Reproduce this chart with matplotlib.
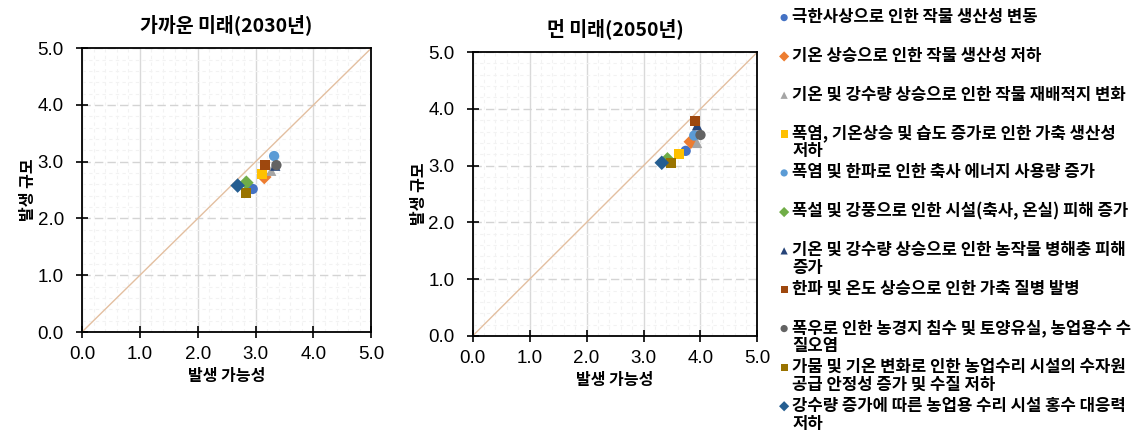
"""
Climate risk matrix: near future (2030) vs far future (2050)
"""
import numpy as np
import matplotlib
matplotlib.use('Agg')
import matplotlib.pyplot as plt
from matplotlib.ticker import MultipleLocator

plt.rcParams['font.family'] = ['Noto Sans CJK KR', 'DejaVu Sans']

# Risk labels (first line, wrapped continuation)
labels = [
    '극한사상으로 인한 작물 생산성 변동',
    '기온 상승으로 인한 작물 생산성 저하',
    '기온 및 강수량 상승으로 인한 작물 재배적지 변화',
    '폭염, 기온상승 및 습도 증가로 인한 가축 생산성',
    '폭염 및 한파로 인한 축사 에너지 사용량 증가',
    '폭설 및 강풍으로 인한 시설(축사, 온실) 피해 증가',
    '기온 및 강수량 상승으로 인한 농작물 병해충 피해',
    '한파 및 온도 상승으로 인한 가축 질병 발병',
    '폭우로 인한 농경지 침수 및 토양유실, 농업용수 수',
    '가뭄 및 기온 변화로 인한 농업수리 시설의 수자원',
    '강수량 증가에 따른 농업용 수리 시설 홍수 대응력',
]
wrap_lines = ['', '', '', '저하', '', '', '증가', '', '질오염', '공급 안정성 증가 및 수질 저하', '저하']

markers = ['o', 'D', '^', 's', 'o', 'D', '^', 's', 'o', 's', 'D']
colors = ['#4472C4', '#ED7D31', '#A5A5A5', '#FFC000', '#5B9BD5', '#70AD47',
          '#264478', '#9E480E', '#636363', '#997300', '#255E91']

# 발생 가능성 (x) / 발생 규모 (y)
x_2030 = [2.95, 3.15, 3.27, 3.11, 3.32, 2.84, 3.34, 3.16, 3.36, 2.84, 2.69]
y_2030 = [2.52, 2.73, 2.84, 2.78, 3.10, 2.63, 2.93, 2.94, 2.94, 2.45, 2.58]
x_2050 = [3.74, 3.83, 3.94, 3.62, 3.89, 3.42, 3.94, 3.90, 4.00, 3.48, 3.32]
y_2050 = [3.26, 3.42, 3.40, 3.21, 3.53, 3.11, 3.71, 3.79, 3.54, 3.05, 3.05]

ticks = [0.0, 1.0, 2.0, 3.0, 4.0, 5.0]


def draw_panel(ax, xs, ys, title):
    ax.set_xlim(0, 5)
    ax.set_ylim(0, 5)
    ax.plot([0, 5], [0, 5], color='#E3BFA0', linewidth=1, zorder=1)
    for i in range(len(xs)):
        ax.scatter(xs[i], ys[i], marker=markers[i], color=colors[i], s=55,
                   edgecolors='none', zorder=3 + i, label=labels[i])
    ax.set_xticks(ticks)
    ax.set_yticks(ticks)
    ax.set_xticklabels([f'{t:.1f}' for t in ticks])
    ax.set_yticklabels([f'{t:.1f}' for t in ticks])
    ax.xaxis.set_minor_locator(MultipleLocator(0.2))
    ax.yaxis.set_minor_locator(MultipleLocator(0.2))
    ax.tick_params(which='minor', length=0)
    ax.tick_params(which='major', direction='inout', length=8, width=1.2,
                   color='black', labelsize=13.5, labelfontfamily='Liberation Sans')
    ax.tick_params(axis='x', pad=6)
    ax.tick_params(axis='y', pad=9)
    ax.grid(which='major', axis='x', color='#D9D9D9', linewidth=1, linestyle='-')
    ax.grid(which='major', axis='y', color='#D4D4D4', linewidth=1, linestyle=(0, (6, 3)))
    ax.grid(which='minor', color='#F2F2F2', linewidth=0.8, linestyle=(0, (3, 3)))
    ax.set_axisbelow(True)
    for sp in ax.spines.values():
        sp.set_color('black')
        sp.set_linewidth(1.3)
    ax.set_title(title, fontsize=14, fontweight='bold', pad=12)
    ax.set_xlabel('발생 가능성', fontsize=11.5, fontweight='bold', labelpad=4)
    ax.set_ylabel('발생 규모', fontsize=11.5, fontweight='bold', labelpad=1)


fig = plt.figure(figsize=(11.39, 4.34), dpi=100)
ax1 = fig.add_axes([0.072, 0.235, 0.254, 0.654])
ax2 = fig.add_axes([0.415, 0.226, 0.250, 0.654])

draw_panel(ax1, x_2030, y_2030, '가까운 미래(2030년)')
draw_panel(ax2, x_2050, y_2050, '먼 미래(2050년)')

handles, _ = ax2.get_legend_handles_labels()
leg = fig.legend(handles, labels, loc='upper left', bbox_to_anchor=(0.676, 0.997),
                 frameon=False, labelspacing=1.25, handletextpad=0.05,
                 handlelength=0.9, markerscale=0.7, borderaxespad=0,
                 prop={'weight': 'bold', 'size': 12})

# wrapped second lines of the long legend labels
fig.canvas.draw()
renderer = fig.canvas.get_renderer()
for t, extra in zip(leg.get_texts(), wrap_lines):
    if not extra:
        continue
    bb = t.get_window_extent(renderer)
    fig.text(bb.x0 / fig.bbox.width, (bb.y0 - 9) / fig.bbox.height, extra,
             fontsize=12, fontweight='bold', va='center', ha='left')

plt.savefig('out.png', dpi=100)
plt.close()
